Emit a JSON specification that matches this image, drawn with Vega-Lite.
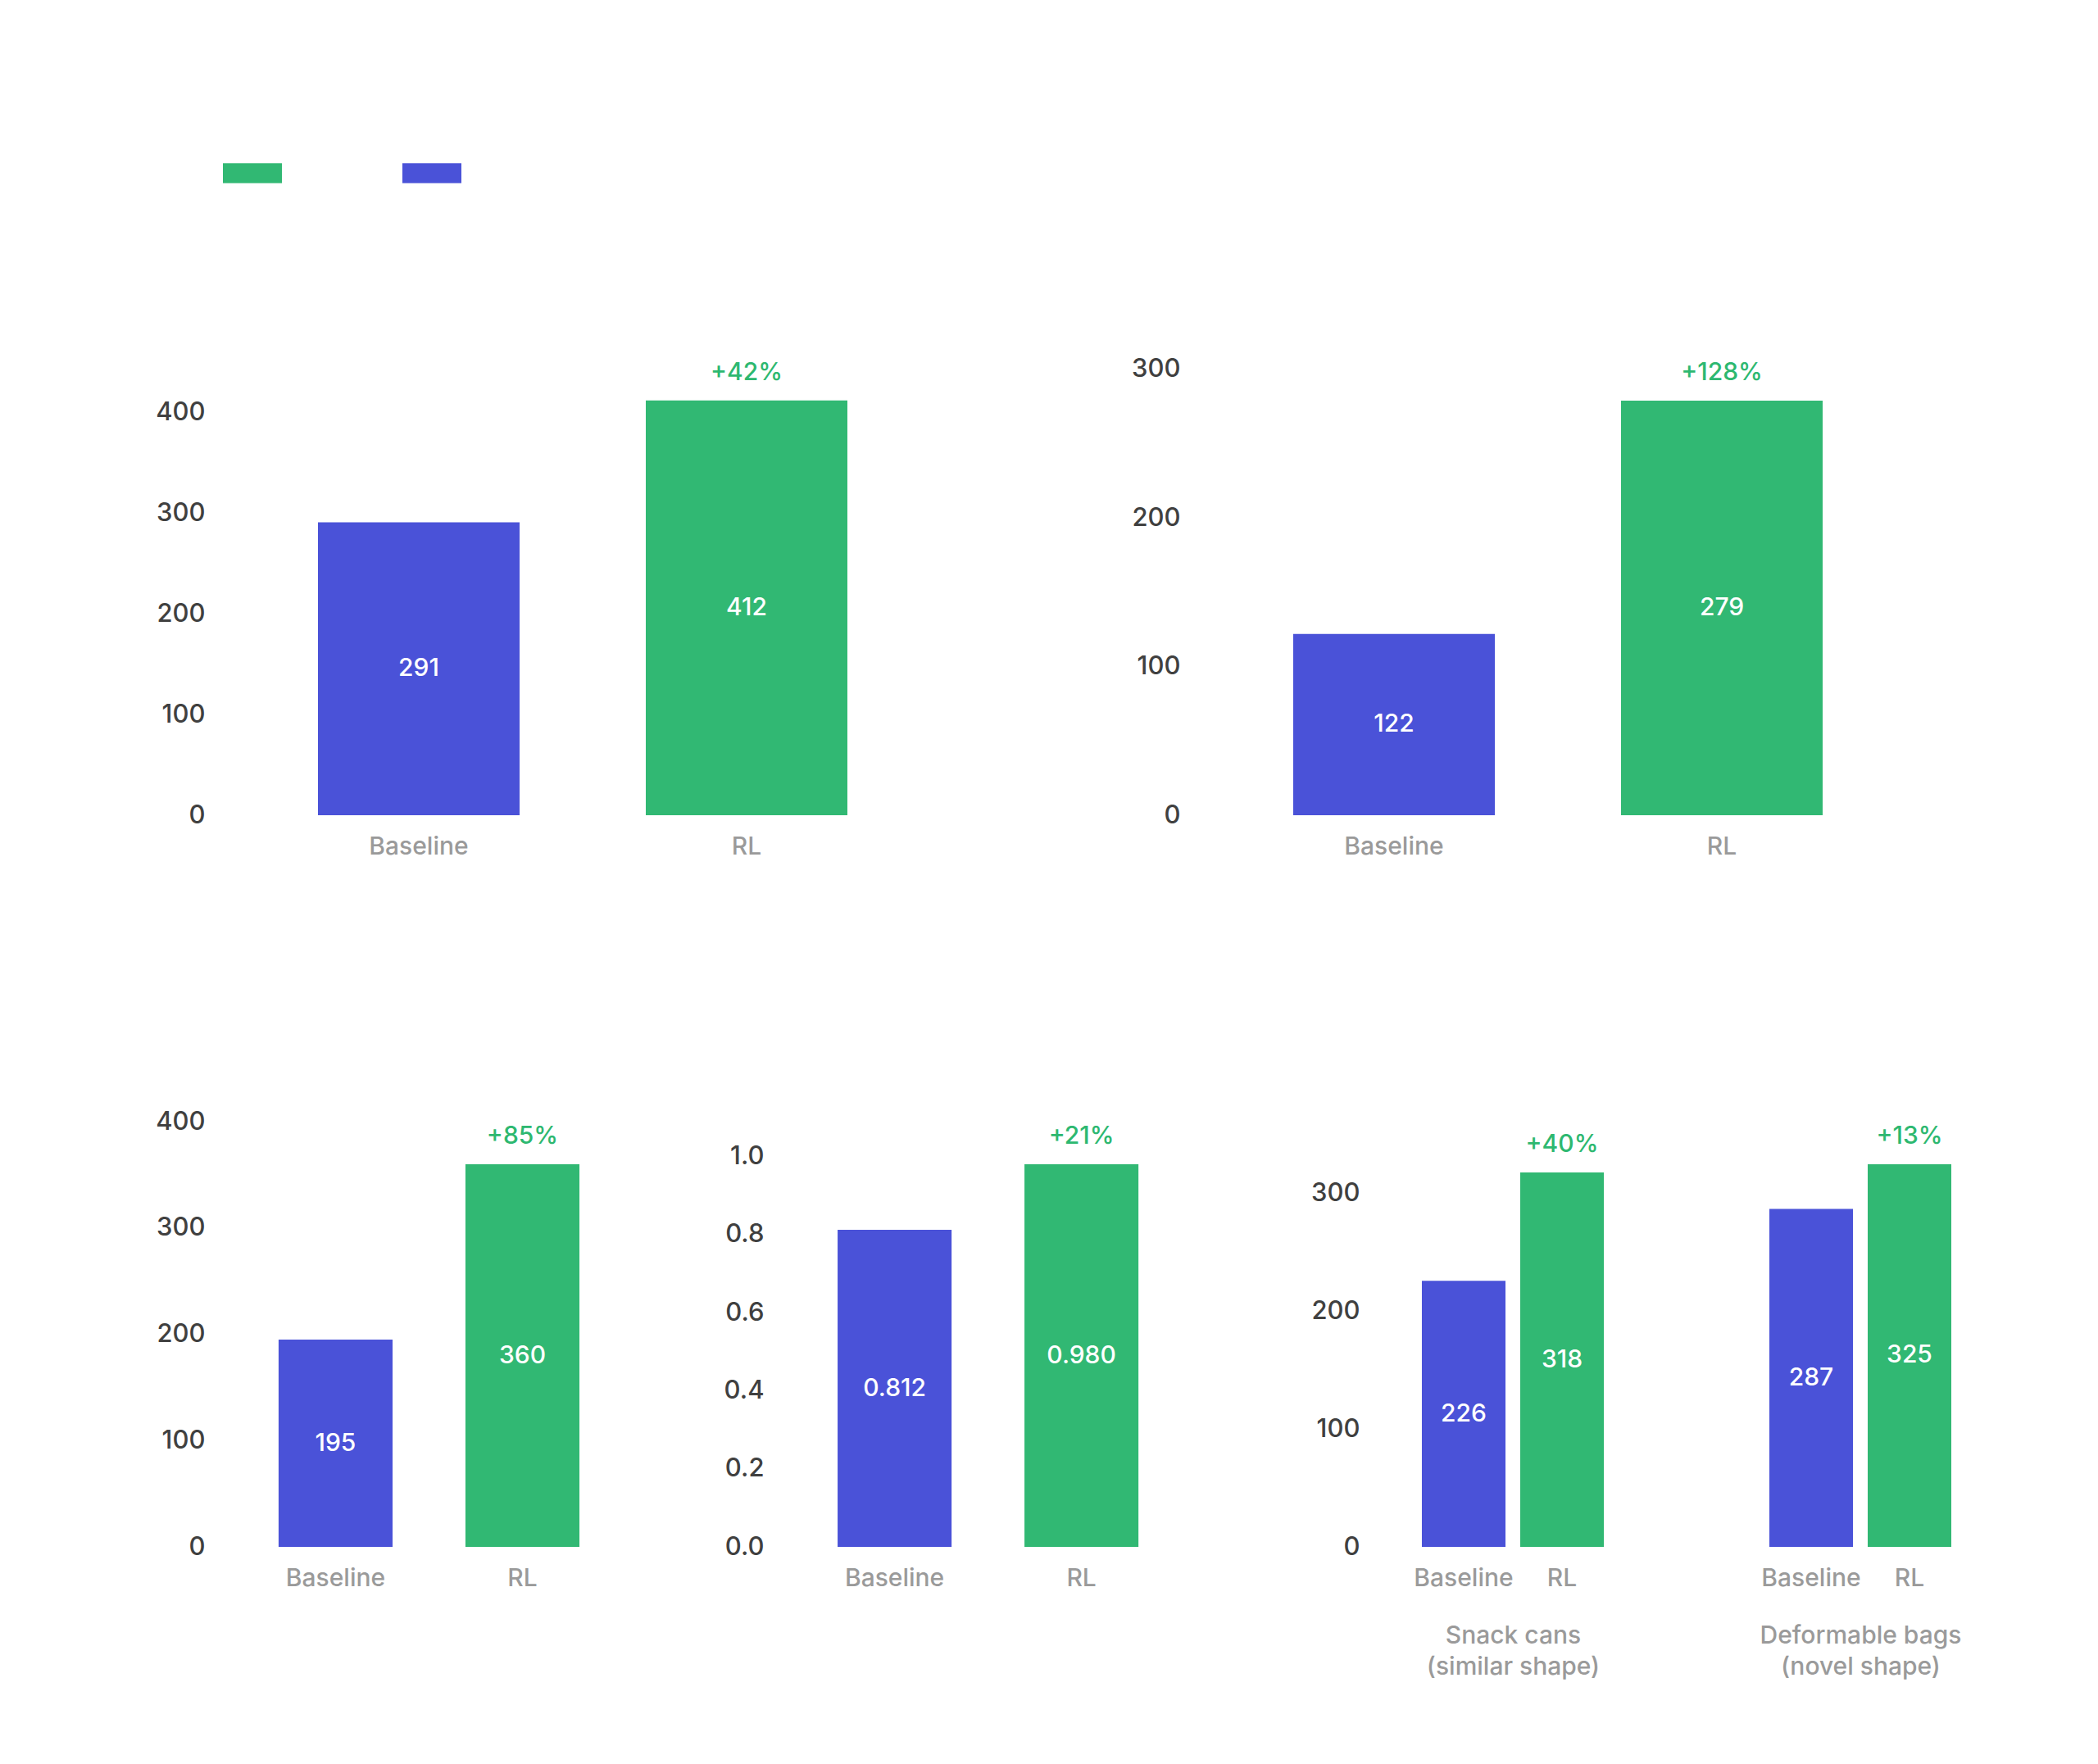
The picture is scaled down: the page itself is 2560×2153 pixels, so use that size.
{
  "$schema": "https://vega.github.io/schema/vega-lite/v6.json",
  "background": "white",
  "padding": {"left": 189, "top": 171, "right": 40, "bottom": 40},
  "config": {
    "view": {"stroke": null},
    "font": "Inter",
    "axis": {"domain": false, "ticks": false, "grid": false, "labelFont": "Inter", "labelFontSize": 30, "labelFontWeight": 500, "titleFont": "Inter"},
    "axisY": {"labelColor": "#404040", "labelPadding": 18, "labelFontSize": 31},
    "axisX": {"labelColor": "#9a9a9a", "labelAngle": 0, "labelPadding": 23, "labelOverlap": false, "titleColor": "#9a9a9a", "titleFontWeight": 500, "titleFontSize": 30, "titlePadding": 40, "titleLineHeight": 38},
    "text": {"font": "Inter", "fontSize": 30, "fontWeight": 500},
    "bar": {"strokeWidth": 0},
    "legend": {
      "orient": "top",
      "direction": "horizontal",
      "title": null,
      "padding": 4,
      "symbolType": "M-1,-0.34H1V0.34H-1Z",
      "symbolSize": 5184,
      "symbolStrokeWidth": 0,
      "symbolOpacity": 1,
      "labelOffset": 0,
      "columnPadding": 147,
      "offset": 206
    }
  },
  "datasets": {
    "bars": [
      {"panel": "a", "method": "Baseline", "value": 291},
      {"panel": "a", "method": "RL", "value": 412, "gain": "+42%"},
      {"panel": "b", "method": "Baseline", "value": 122},
      {"panel": "b", "method": "RL", "value": 279, "gain": "+128%"},
      {"panel": "c", "method": "Baseline", "value": 195},
      {"panel": "c", "method": "RL", "value": 360, "gain": "+85%"},
      {"panel": "d", "method": "Baseline", "value": 0.812},
      {"panel": "d", "method": "RL", "value": 0.98, "gain": "+21%"},
      {"panel": "e", "method": "Baseline", "value": 226},
      {"panel": "e", "method": "RL", "value": 318, "gain": "+40%"},
      {"panel": "f", "method": "Baseline", "value": 287},
      {"panel": "f", "method": "RL", "value": 325, "gain": "+13%"}
    ]
  },
  "data": {"name": "bars"},
  "bounds": "full",
  "spacing": 305,
  "vconcat": [
    {
      "bounds": "flush",
      "spacing": 304,
      "hconcat": [
        {
          "width": 886, "height": 560,
          "transform": [{"filter": "datum.panel === 'a'"}],
          "encoding": {"x": {"field": "method", "type": "nominal", "sort": ["Baseline", "RL"], "scale": {"paddingInner": 0.385, "paddingOuter": 0.3}, "axis": {"title": null}}},
          "layer": [
            {"mark": "bar", "encoding": {
              "y": {"field": "value", "type": "quantitative", "scale": {"domain": [0, 455.7], "nice": false}, "axis": {"title": null, "values": [0, 100, 200, 300, 400]}},
              "color": {"field": "method", "type": "nominal", "scale": {"domain": ["RL", "Baseline"], "range": ["#31B873", "#4A52D8"]}, "legend": {"labelExpr": "''"}}}},
            {"mark": {"type": "text", "color": "white"}, "encoding": {
              "y": {"field": "value", "type": "quantitative", "scale": {"domain": [0, 911.4], "nice": false}, "axis": null},
              "text": {"field": "value", "type": "quantitative", "format": "d"}}},
            {"transform": [{"filter": "isValid(datum.gain)"}], "mark": {"type": "text", "color": "#2DB870", "dy": -34}, "encoding": {
              "y": {"field": "value", "type": "quantitative", "scale": {"domain": [0, 455.7], "nice": false}, "axis": null},
              "text": {"field": "gain"}}}
          ],
          "resolve": {"scale": {"y": "independent"}}
        },
        {
          "width": 886, "height": 560,
          "transform": [{"filter": "datum.panel === 'b'"}],
          "encoding": {"x": {"field": "method", "type": "nominal", "sort": ["Baseline", "RL"], "scale": {"paddingInner": 0.385, "paddingOuter": 0.3}, "axis": {"title": null}}},
          "layer": [
            {"mark": "bar", "encoding": {
              "y": {"field": "value", "type": "quantitative", "scale": {"domain": [0, 308.7], "nice": false}, "axis": {"title": null, "values": [0, 100, 200, 300]}},
              "color": {"field": "method", "type": "nominal", "scale": {"domain": ["RL", "Baseline"], "range": ["#31B873", "#4A52D8"]}, "legend": {"labelExpr": "''"}}}},
            {"mark": {"type": "text", "color": "white"}, "encoding": {
              "y": {"field": "value", "type": "quantitative", "scale": {"domain": [0, 617.4], "nice": false}, "axis": null},
              "text": {"field": "value", "type": "quantitative", "format": "d"}}},
            {"transform": [{"filter": "isValid(datum.gain)"}], "mark": {"type": "text", "color": "#2DB870", "dy": -34}, "encoding": {
              "y": {"field": "value", "type": "quantitative", "scale": {"domain": [0, 308.7], "nice": false}, "axis": null},
              "text": {"field": "gain"}}}
          ],
          "resolve": {"scale": {"y": "independent"}}
        }
      ]
    },
    {
      "bounds": "flush",
      "spacing": 88,
      "hconcat": [
        {
          "width": 594, "height": 530,
          "transform": [{"filter": "datum.panel === 'c'"}],
          "encoding": {"x": {"field": "method", "type": "nominal", "sort": ["Baseline", "RL"], "scale": {"paddingInner": 0.39, "paddingOuter": 0.4975, "align": 0.317}, "axis": {"title": null}}},
          "layer": [
            {"mark": "bar", "encoding": {
              "y": {"field": "value", "type": "quantitative", "scale": {"domain": [0, 408.6], "nice": false}, "axis": {"title": null, "values": [0, 100, 200, 300, 400]}},
              "color": {"field": "method", "type": "nominal", "scale": {"domain": ["RL", "Baseline"], "range": ["#31B873", "#4A52D8"]}, "legend": {"labelExpr": "''"}}}},
            {"mark": {"type": "text", "color": "white"}, "encoding": {
              "y": {"field": "value", "type": "quantitative", "scale": {"domain": [0, 817.2], "nice": false}, "axis": null},
              "text": {"field": "value", "type": "quantitative", "format": "d"}}},
            {"transform": [{"filter": "isValid(datum.gain)"}], "mark": {"type": "text", "color": "#2DB870", "dy": -34}, "encoding": {
              "y": {"field": "value", "type": "quantitative", "scale": {"domain": [0, 408.6], "nice": false}, "axis": null},
              "text": {"field": "gain"}}}
          ],
          "resolve": {"scale": {"y": "independent"}}
        },
        {
          "width": 639, "height": 530,
          "transform": [{"filter": "datum.panel === 'd'"}],
          "encoding": {"x": {"field": "method", "type": "nominal", "sort": ["Baseline", "RL"], "scale": {"paddingInner": 0.39, "paddingOuter": 0.5963, "align": 0.265}, "axis": {"title": null}}},
          "layer": [
            {"mark": "bar", "encoding": {
              "y": {"field": "value", "type": "quantitative", "scale": {"domain": [0, 1.1123], "nice": false}, "axis": {"title": null, "values": [0, 0.2, 0.4, 0.6, 0.8, 1.0], "format": ".1f"}},
              "color": {"field": "method", "type": "nominal", "scale": {"domain": ["RL", "Baseline"], "range": ["#31B873", "#4A52D8"]}, "legend": {"labelExpr": "''"}}}},
            {"mark": {"type": "text", "color": "white"}, "encoding": {
              "y": {"field": "value", "type": "quantitative", "scale": {"domain": [0, 2.2246], "nice": false}, "axis": null},
              "text": {"field": "value", "type": "quantitative", "format": ".3f"}}},
            {"transform": [{"filter": "isValid(datum.gain)"}], "mark": {"type": "text", "color": "#2DB870", "dy": -34}, "encoding": {
              "y": {"field": "value", "type": "quantitative", "scale": {"domain": [0, 1.1123], "nice": false}, "axis": null},
              "text": {"field": "gain"}}}
          ],
          "resolve": {"scale": {"y": "independent"}}
        },
        {
          "width": 338, "height": 530,
          "transform": [{"filter": "datum.panel === 'e'"}],
          "encoding": {"x": {"field": "method", "type": "nominal", "sort": ["Baseline", "RL"], "scale": {"paddingInner": 0.15, "paddingOuter": 0.483}, "axis": {"title": ["Snack cans", "(similar shape)"]}}},
          "layer": [
            {"mark": "bar", "encoding": {
              "y": {"field": "value", "type": "quantitative", "scale": {"domain": [0, 368.8], "nice": false}, "axis": {"title": null, "values": [0, 100, 200, 300]}},
              "color": {"field": "method", "type": "nominal", "scale": {"domain": ["RL", "Baseline"], "range": ["#31B873", "#4A52D8"]}, "legend": {"labelExpr": "''"}}}},
            {"mark": {"type": "text", "color": "white"}, "encoding": {
              "y": {"field": "value", "type": "quantitative", "scale": {"domain": [0, 737.6], "nice": false}, "axis": null},
              "text": {"field": "value", "type": "quantitative", "format": "d"}}},
            {"transform": [{"filter": "isValid(datum.gain)"}], "mark": {"type": "text", "color": "#2DB870", "dy": -34}, "encoding": {
              "y": {"field": "value", "type": "quantitative", "scale": {"domain": [0, 368.8], "nice": false}, "axis": null},
              "text": {"field": "gain"}}}
          ],
          "resolve": {"scale": {"y": "independent"}}
        },
        {
          "width": 334, "height": 530,
          "transform": [{"filter": "datum.panel === 'f'"}],
          "encoding": {"x": {"field": "method", "type": "nominal", "sort": ["Baseline", "RL"], "scale": {"paddingInner": 0.15, "paddingOuter": 0.4667}, "axis": {"title": ["Deformable bags", "(novel shape)"]}}},
          "layer": [
            {"mark": "bar", "encoding": {
              "y": {"field": "value", "type": "quantitative", "scale": {"domain": [0, 368.8], "nice": false}, "axis": null},
              "color": {"field": "method", "type": "nominal", "scale": {"domain": ["RL", "Baseline"], "range": ["#31B873", "#4A52D8"]}, "legend": {"labelExpr": "''"}}}},
            {"mark": {"type": "text", "color": "white"}, "encoding": {
              "y": {"field": "value", "type": "quantitative", "scale": {"domain": [0, 737.6], "nice": false}, "axis": null},
              "text": {"field": "value", "type": "quantitative", "format": "d"}}},
            {"transform": [{"filter": "isValid(datum.gain)"}], "mark": {"type": "text", "color": "#2DB870", "dy": -34}, "encoding": {
              "y": {"field": "value", "type": "quantitative", "scale": {"domain": [0, 368.8], "nice": false}, "axis": null},
              "text": {"field": "gain"}}}
          ],
          "resolve": {"scale": {"y": "independent"}}
        }
      ]
    }
  ]
}
